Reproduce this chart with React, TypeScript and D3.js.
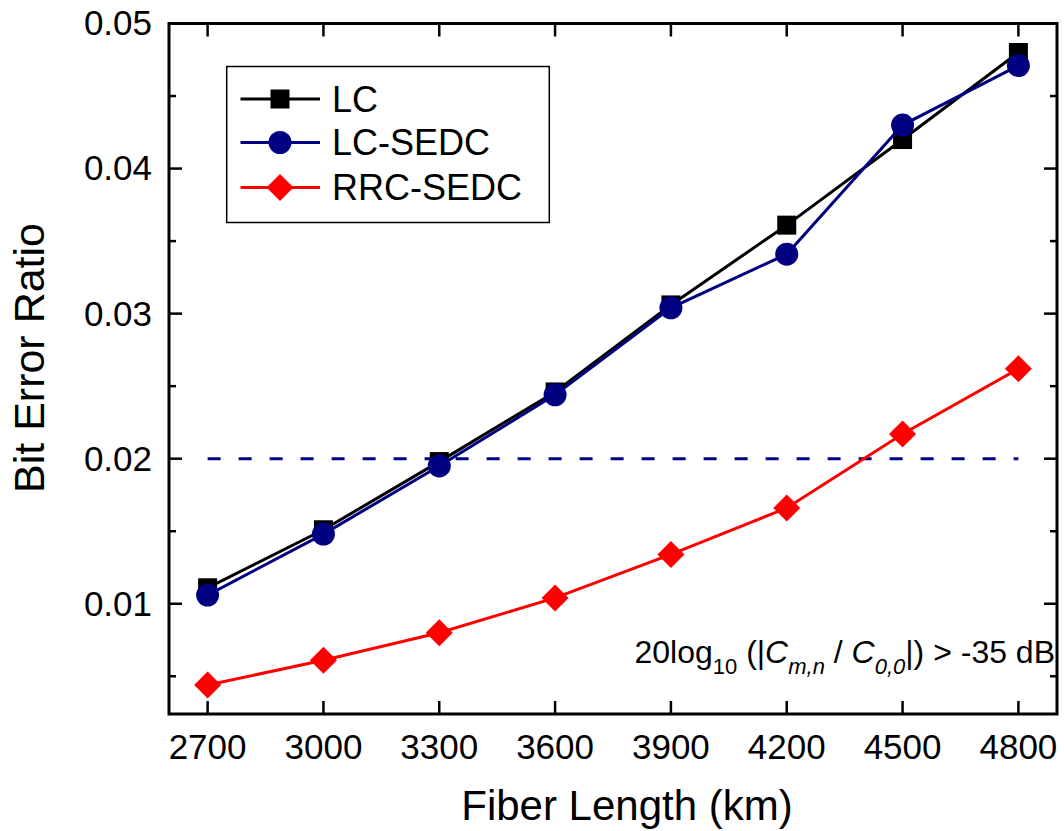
import React from "react";
import * as d3 from "d3";

const fiberLength = [2700, 3000, 3300, 3600, 3900, 4200, 4500, 4800];
const lcValues = [0.0111, 0.0151, 0.0198, 0.0246, 0.0306, 0.0361, 0.042, 0.048];
const lcSedcValues = [0.0106, 0.0148, 0.0195, 0.0244, 0.0304, 0.0341, 0.043, 0.0471];
const rrcSedcValues = [0.0044, 0.0061, 0.008, 0.0104, 0.0134, 0.0166, 0.0217, 0.0262];
const xTicks = [2700, 3000, 3300, 3600, 3900, 4200, 4500, 4800];
const yMajorTicks = [0.01, 0.02, 0.03, 0.04, 0.05];
const yMinorTicks = [0.005, 0.015, 0.025, 0.035, 0.045];
const threshold = 0.02;
const seriesNames = ["LC", "LC-SEDC", "RRC-SEDC"];

const FONT = "'Liberation Sans', Arial, sans-serif";

export default function App() {
  const W = 1064, H = 831;
  const L = 169, R = 1057, T = 23.5, B = 714;
  const x = d3.scaleLinear().domain([2600, 4900]).range([L, R]);
  const y = d3.scaleLinear().domain([0.0024, 0.05]).range([B, T]);

  const series = [
    { name: seriesNames[0], values: lcValues, color: "#000000", marker: "square" },
    { name: seriesNames[1], values: lcSedcValues, color: "#000080", marker: "circle" },
    { name: seriesNames[2], values: rrcSedcValues, color: "#ff0000", marker: "diamond" },
  ];

  const line = d3
    .line<[number, number]>()
    .x((d) => x(d[0]))
    .y((d) => y(d[1]));

  const marker = (type: string, cx: number, cy: number, color: string, key: string | number) => {
    if (type === "square") {
      return <rect key={key} x={cx - 9.5} y={cy - 9.5} width={19} height={19} fill={color} />;
    }
    if (type === "circle") {
      return <circle key={key} cx={cx} cy={cy} r={11.5} fill={color} />;
    }
    const r = 13.5;
    return (
      <path
        key={key}
        d={`M${cx},${cy - r}L${cx + r},${cy}L${cx},${cy + r}L${cx - r},${cy}Z`}
        fill={color}
      />
    );
  };

  const legendY = [99, 142.5, 187.5];

  return (
    <svg width={W} height={H} style={{ display: "block", position: "absolute", left: 0, top: 0 }} fontFamily={FONT}>
      <rect x={0} y={0} width={W} height={H} fill="#ffffff" />

      {/* threshold dashed line */}
      <line
        x1={x(2700)}
        x2={x(4800)}
        y1={y(threshold)}
        y2={y(threshold)}
        stroke="#000080"
        strokeWidth={3}
        strokeDasharray="13 18"
      />

      {/* series */}
      {series.map((s) => (
        <g key={s.name}>
          <path
            d={line(fiberLength.map((f, i) => [f, s.values[i]]) as [number, number][]) || ""}
            fill="none"
            stroke={s.color}
            strokeWidth={3}
          />
          {fiberLength.map((f, i) => marker(s.marker, x(f), y(s.values[i]), s.color, i))}
        </g>
      ))}

      {/* frame */}
      <rect x={L} y={T} width={R - L} height={B - T} fill="none" stroke="#000" strokeWidth={3} />

      {/* x ticks bottom & top */}
      {xTicks.map((t) => (
        <g key={"xt" + t}>
          <line x1={x(t)} x2={x(t)} y1={B} y2={B - 13} stroke="#000" strokeWidth={2.5} />
          <line x1={x(t)} x2={x(t)} y1={T} y2={T + 13} stroke="#000" strokeWidth={2.5} />
          <text x={x(t)} y={759} textAnchor="middle" fontSize={35} fill="#000">
            {t}
          </text>
        </g>
      ))}

      {/* y ticks */}
      {yMajorTicks.map((t) => (
        <g key={"yt" + t}>
          <line x1={L} x2={L + 13} y1={y(t)} y2={y(t)} stroke="#000" strokeWidth={2.5} />
          <line x1={R} x2={R - 13} y1={y(t)} y2={y(t)} stroke="#000" strokeWidth={2.5} />
          <text x={152} y={y(t)} dy="0.34em" textAnchor="end" fontSize={35} fill="#000">
            {d3.format(".2f")(t)}
          </text>
        </g>
      ))}
      {yMinorTicks.map((t) => (
        <g key={"ym" + t}>
          <line x1={L} x2={L + 7} y1={y(t)} y2={y(t)} stroke="#000" strokeWidth={2.5} />
          <line x1={R} x2={R - 7} y1={y(t)} y2={y(t)} stroke="#000" strokeWidth={2.5} />
        </g>
      ))}

      {/* axis titles */}
      <text x={627} y={820} textAnchor="middle" fontSize={42} fill="#000">
        Fiber Length (km)
      </text>
      <text
        transform={`translate(44,358) rotate(-90)`}
        textAnchor="middle"
        fontSize={43}
        fill="#000"
      >
        Bit Error Ratio
      </text>

      {/* legend */}
      <rect x={226.7} y={66.5} width={322.6} height={156} fill="#fff" stroke="#000" strokeWidth={1.5} />
      {series.map((s, i) => (
        <g key={"lg" + s.name}>
          <line x1={240.5} x2={320} y1={legendY[i]} y2={legendY[i]} stroke={s.color} strokeWidth={3} />
          {marker(s.marker, 280, legendY[i], s.color, "m")}
          <text x={332} y={legendY[i]} dy="0.35em" fontSize={36} fill="#000">
            {s.name}
          </text>
        </g>
      ))}

      {/* annotation */}
      <text x={1055} y={663} textAnchor="end" fontSize={32} fill="#000">
        <tspan>20log</tspan>
        <tspan fontSize={22} dy={11}>10</tspan>
        <tspan dy={-11}> (|</tspan>
        <tspan fontStyle="italic">C</tspan>
        <tspan fontSize={22} fontStyle="italic" dy={11}>m,n</tspan>
        <tspan dy={-11}> / </tspan>
        <tspan fontStyle="italic">C</tspan>
        <tspan fontSize={22} fontStyle="italic" dy={11}>0,0</tspan>
        <tspan dy={-11}>|) &gt; -35 dB</tspan>
      </text>
    </svg>
  );
}
